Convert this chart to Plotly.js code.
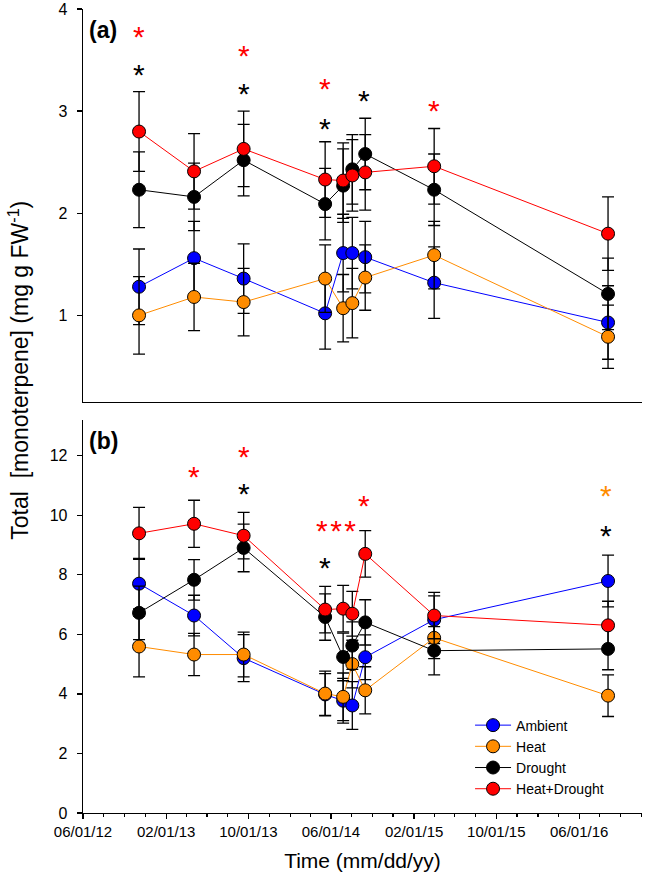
<!DOCTYPE html>
<html>
<head>
<meta charset="utf-8">
<script src="https://cdn.plot.ly/plotly-3.0.1.min.js"></script>
<style>html,body{margin:0;padding:0;background:#fff;}#chart{width:645px;height:884px;}</style>
</head>
<body>
<div id="chart"></div>
<script>
// Sampling dates (shared by both panels)
var dates = ['2012-11-13','2013-04-24','2013-09-17','2014-05-15','2014-07-07','2014-08-03','2014-09-10','2015-04-01','2016-08-25'];
var seriesNames = ['Ambient','Heat','Drought','Heat+Drought'];

// Panel (a) means and errors
var ambientA = [1.28, 1.56, 1.36, 1.02, 1.61, 1.61, 1.57, 1.32, 0.93];
var heatA    = [1.00, 1.18, 1.13, 1.36, 1.07, 1.12, 1.37, 1.59, 0.79];
var droughtA = [2.23, 2.16, 2.52, 2.09, 2.27, 2.43, 2.58, 2.23, 1.21];
var hdA      = [2.80, 2.41, 2.63, 2.33, 2.32, 2.37, 2.40, 2.46, 1.80];
var errAmbientA = [0.37, 0.36, 0.34, 0.35, 0.38, 0.35, 0.35, 0.35, 0.36];
var errHeatA    = [0.38, 0.33, 0.33, 0.33, 0.33, 0.34, 0.32, 0.33, 0.31];
var errDroughtA = [0.37, 0.33, 0.35, 0.35, 0.36, 0.34, 0.35, 0.35, 0.35];
var errHdA      = [0.39, 0.37, 0.37, 0.37, 0.37, 0.35, 0.37, 0.37, 0.36];

// Panel (b) means and errors
var ambientB = [7.70, 6.63, 5.20, 3.98, 3.77, 3.61, 5.23, 6.49, 7.79];
var heatB    = [5.59, 5.32, 5.32, 4.01, 3.90, 5.00, 4.12, 5.88, 3.94];
var droughtB = [6.72, 7.83, 8.90, 6.58, 5.24, 5.62, 6.40, 5.45, 5.51];
var hdB      = [9.39, 9.71, 9.31, 6.83, 6.86, 6.69, 8.70, 6.63, 6.30];
var errAmbientB = [0.85, 0.68, 0.79, 0.70, 0.75, 0.80, 0.75, 0.80, 0.87];
var errHeatB    = [1.02, 0.71, 0.75, 0.75, 0.80, 0.80, 0.79, 0.70, 0.70];
var errDroughtB = [0.90, 0.68, 0.80, 0.78, 0.80, 0.80, 0.76, 0.81, 0.70];
var errHdB      = [0.87, 0.79, 0.78, 0.78, 0.78, 0.75, 0.78, 0.78, 0.81];

// Significance markers
var starPanel = ['a','a','a','a','a','a','a','a','b','b','b','b','b','b','b','b'];
var starDate  = ['2012-11-13','2012-11-13','2013-09-17','2013-09-17','2014-05-15','2014-05-15','2014-09-05','2015-04-01',
                 '2013-04-24','2013-09-17','2013-09-17','2014-05-15','2014-06-15','2014-09-05','2016-08-20','2016-08-20'];
var starY     = [3.77, 3.40, 3.58, 3.21, 3.26, 2.87, 3.14, 3.05,
                 11.42, 12.11, 10.86, 8.37, 9.62, 10.46, 10.80, 9.46];
var starText  = ['*','*','*','*','*','*','*','*','*','*','*','*','*\u200a*\u200a*','*','*','*'];
var starGroup = ['Heat+Drought','Drought','Heat+Drought','Drought','Heat+Drought','Drought','Drought','Heat+Drought',
                 'Heat+Drought','Heat+Drought','Drought','Drought','Heat+Drought','Heat+Drought','Heat','Drought'];

var colors = {'Ambient':'#0000FF','Heat':'#FF8C00','Drought':'#000000','Heat+Drought':'#FF0000'};
var FONT = 'Liberation Sans, Arial, sans-serif';

var panelA = [ambientA, heatA, droughtA, hdA];
var panelAErr = [errAmbientA, errHeatA, errDroughtA, errHdA];
var panelB = [ambientB, heatB, droughtB, hdB];
var panelBErr = [errAmbientB, errHeatB, errDroughtB, errHdB];

var traces = [];
function mk(name, y, err, xa, ya, show) {
  return {
    type: 'scatter', mode: 'lines+markers', name: name,
    x: dates, y: y, xaxis: xa, yaxis: ya, showlegend: show,
    line: {color: colors[name], width: 1},
    marker: {color: colors[name], size: 13, line: {color: '#000', width: 1}},
    error_y: {type: 'data', array: err, visible: true, color: '#000', thickness: 1.3, width: 6}
  };
}
for (var i = 0; i < 4; i++) traces.push(mk(seriesNames[i], panelA[i], panelAErr[i], 'x2', 'y2', false));
for (var j = 0; j < 4; j++) traces.push(mk(seriesNames[j], panelB[j], panelBErr[j], 'x', 'y', true));

var annotations = [];
for (var k = 0; k < starY.length; k++) {
  annotations.push({
    x: starDate[k], y: starY[k], xref: starPanel[k] === 'a' ? 'x2' : 'x', yref: starPanel[k] === 'a' ? 'y2' : 'y',
    text: starText[k], showarrow: false, yshift: -4,
    font: {family: FONT, size: 30, color: colors[starGroup[k]]}
  });
}
annotations.push({xref:'paper', yref:'paper', x:0.007, y:0.974, xanchor:'left', yanchor:'middle', text:'<b>(a)</b>', showarrow:false, font:{family:FONT, size:23, color:'#000'}});
annotations.push({xref:'paper', yref:'paper', x:0.007, y:0.463, xanchor:'left', yanchor:'middle', text:'<b>(b)</b>', showarrow:false, font:{family:FONT, size:23, color:'#000'}});
annotations.push({xref:'paper', yref:'paper', x:-0.115, y:0.551, xanchor:'center', yanchor:'middle', textangle:-90,
  text:'Total\u00a0 [monoterpene] (mg g FW<sup>-1</sup>)', showarrow:false, font:{family:FONT, size:23, color:'#000'}});

var xCommon = {
  type: 'date', range: ['2012-06-01', '2016-12-03'], showgrid: false, zeroline: false,
  showline: true, linecolor: '#000', linewidth: 1.3
};
var layout = {
  width: 645, height: 884,
  margin: {l: 83, r: 3, t: 9, b: 71},
  paper_bgcolor: '#fff', plot_bgcolor: '#fff',
  font: {family: FONT, color: '#000'},
  xaxis: Object.assign({}, xCommon, {
    anchor: 'y', tick0: '2012-06-01', dtick: 'M8', tickformat: '%m/%d/%y',
    ticks: 'outside', ticklen: 5, tickcolor: '#000', tickwidth: 1.3,
    tickfont: {size: 15, family: FONT},
    minor: {tick0: '2012-06-01', dtick: 'M2', ticks: 'outside', ticklen: 3, tickcolor: '#000', tickwidth: 1.2, showgrid: false},
    title: {text: 'Time (mm/dd/yy)', font: {size: 21, family: FONT}, standoff: 14}
  }),
  xaxis2: Object.assign({}, xCommon, {anchor: 'y2', matches: 'x', ticks: '', showticklabels: false}),
  yaxis: {
    domain: [0, 0.489], range: [0, 13.2], tick0: 0, dtick: 2, anchor: 'x',
    ticks: 'outside', ticklen: 5, tickcolor: '#000', tickwidth: 1.3, ticklabelstandoff: 6,
    showline: true, linecolor: '#000', linewidth: 1.3, showgrid: false, zeroline: false,
    tickfont: {size: 16, family: FONT}
  },
  yaxis2: {
    domain: [0.511, 1], range: [0.15, 4], tick0: 0, dtick: 1, anchor: 'x2',
    ticks: 'outside', ticklen: 5, tickcolor: '#000', tickwidth: 1.3, ticklabelstandoff: 6,
    showline: true, linecolor: '#000', linewidth: 1.3, showgrid: false, zeroline: false,
    tickfont: {size: 16, family: FONT}
  },
  legend: {
    x: 0.6924, y: 0.1287, xanchor: 'left', yanchor: 'top', bgcolor: 'rgba(0,0,0,0)',
    font: {size: 14, family: FONT}, itemwidth: 36, tracegroupgap: 0
  },
  annotations: annotations,
  showlegend: true
};
Plotly.newPlot('chart', traces, layout, {staticPlot: true});
</script>
</body>
</html>
